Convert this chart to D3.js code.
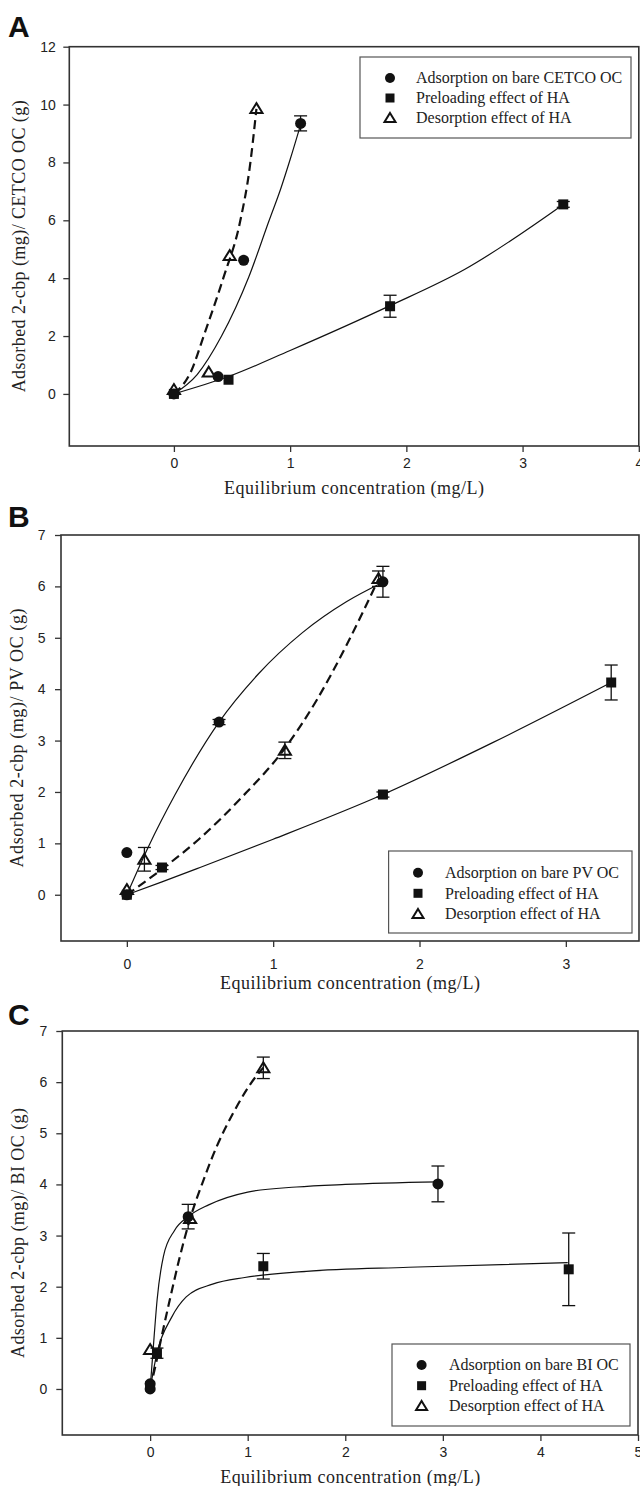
<!DOCTYPE html>
<html>
<head>
<meta charset="utf-8">
<script src="https://cdn.jsdelivr.net/npm/d3@7"></script>
<style>
body { margin: 0; background: #fff; }
svg { display: block; }
</style>
</head>
<body>
<div id="chart"></div>
<script>
// legend labels shared by all panels
var legendPreload = 'Preloading effect of HA';
var legendDesorb = 'Desorption effect of HA';

// panel A - CETCO OC, points are [x, y, error]
var aBare = [[0, 0, 0], [0.38, 0.6, 0], [0.6, 4.62, 0], [1.09, 9.35, 0.26]];
var aPreload = [[0, 0, 0], [0.47, 0.49, 0], [1.86, 3.03, 0.38], [3.35, 6.55, 0.1]];
var aDesorb = [[0, 0.15, 0], [0.3, 0.75, 0], [0.48, 4.78, 0], [0.71, 9.86, 0]];
// fitted curves
var aBareFit = [[0, 0], [0.2, 0.67], [0.41, 2.0], [0.645, 4.05], [0.82, 6.0], [0.92, 7.1], [1.0, 8.1], [1.09, 9.3]];
var aPreloadFit = [[0, 0], [0.47, 0.6], [1.0, 1.5], [1.86, 3.05], [2.5, 4.3], [3.35, 6.55]];
var aDesorbFit = [[0, 0], [0.15, 0.8], [0.256, 2.0], [0.425, 4.0], [0.572, 6.0], [0.65, 7.75], [0.71, 9.85]];
var aXTicks = [0, 1, 2, 3, 4];
var aYTicks = [0, 2, 4, 6, 8, 10, 12];
var aYTitle = 'Adsorbed 2-cbp (mg)/ CETCO OC (g)';
var aLegend = ['Adsorption on bare CETCO OC', legendPreload, legendDesorb];

// panel B - PV OC
var bBare = [[0, 0, 0], [0, 0.82, 0], [0.63, 3.36, 0.05], [1.75, 6.09, 0.3]];
var bPreload = [[0, 0, 0], [0.24, 0.53, 0.04], [1.75, 1.95, 0.05], [3.31, 4.13, 0.34]];
var bDesorb = [[0, 0.1, 0], [0.12, 0.69, 0.23], [1.08, 2.81, 0.16], [1.72, 6.15, 0.15]];
var bBareFit = [[0, 0], [0.15, 0.95], [0.33, 1.95], [0.63, 3.36], [0.9, 4.3], [1.2, 5.1], [1.5, 5.7], [1.75, 6.08]];
var bPreloadFit = [[0, 0], [0.24, 0.25], [0.5, 0.53], [1.0, 1.08], [1.75, 1.95], [2.5, 2.96], [3.31, 4.13]];
var bDesorbFit = [[0, 0], [0.25, 0.52], [0.5, 1.1], [0.78, 1.88], [1.08, 2.85], [1.3, 3.8], [1.5, 4.85], [1.72, 6.14]];
var bXTicks = [0, 1, 2, 3];
var bYTicks = [0, 1, 2, 3, 4, 5, 6, 7];
var bYTitle = 'Adsorbed 2-cbp (mg)/ PV OC (g)';
var bLegend = ['Adsorption on bare PV OC', legendPreload, legendDesorb];

// panel C - BI OC
var cBare = [[0, 0, 0], [0, 0.1, 0], [0.39, 3.37, 0.24], [2.95, 4.01, 0.35]];
var cPreload = [[0, 0.05, 0], [0.07, 0.7, 0.1], [1.16, 2.4, 0.25], [4.29, 2.34, 0.71]];
var cDesorb = [[0, 0.77, 0], [0.41, 3.33, 0], [1.16, 6.28, 0.21]];
var cBareFit = [[0, 0], [0.04, 1.0], [0.072, 1.75], [0.137, 2.6], [0.25, 3.1], [0.39, 3.37], [0.6, 3.6], [1.0, 3.85], [1.5, 3.95], [2.0, 4.0], [2.95, 4.05]];
var cPreloadFit = [[0, 0], [0.07, 0.7], [0.22, 1.4], [0.37, 1.8], [0.64, 2.05], [0.97, 2.18], [1.6, 2.3], [2.65, 2.38], [4.28, 2.47]];
var cDesorbFit = [[0, 0], [0.06, 0.5], [0.115, 1.0], [0.2, 1.73], [0.3, 2.55], [0.41, 3.33], [0.55, 4.1], [0.68, 4.73], [0.85, 5.39], [1.08, 6.1], [1.16, 6.28]];
var cXTicks = [0, 1, 2, 3, 4, 5];
var cYTicks = [0, 1, 2, 3, 4, 5, 6, 7];
var cYTitle = 'Adsorbed 2-cbp (mg)/ BI OC (g)';
var cLegend = ['Adsorption on bare BI OC', legendPreload, legendDesorb];

var xTitle = 'Equilibrium concentration (mg/L)';

// layout of each panel (pixels)
var panels = [
    {
        letter: 'A', letterY: 37,
        left: 69.3, right: 638.8, top: 46.7, bottom: 446,
        xDomain: [-0.9, 4], yDomain: [-1.8, 12],
        xTicks: aXTicks, yTicks: aYTicks, xPad: 6.5, yPad: 7.5,
        yTitle: aYTitle, yTitleX: 19, yTitleLen: 292,
        bare: aBare, preload: aPreload, desorb: aDesorb,
        bareFit: aBareFit, preloadFit: aPreloadFit, desorbFit: aDesorbFit,
        legend: aLegend, legendBox: [360, 57, 271, 81], legendSymX: 390, legendTextX: 416, legendRows: [78, 98, 118]
    },
    {
        letter: 'B', letterY: 527,
        left: 61, right: 639, top: 535, bottom: 941,
        xDomain: [-0.45, 3.5], yDomain: [-0.9, 7],
        xTicks: bXTicks, yTicks: bYTicks, xPad: 12, yPad: 9.5,
        yTitle: bYTitle, yTitleX: 17, yTitleLen: 259,
        bare: bBare, preload: bPreload, desorb: bDesorb,
        bareFit: bBareFit, preloadFit: bPreloadFit, desorbFit: bDesorbFit,
        legend: bLegend, legendBox: [388.6, 851, 243.4, 82], legendSymX: 418, legendTextX: 445, legendRows: [872.7, 893.3, 914]
    },
    {
        letter: 'C', letterY: 1025,
        left: 62.3, right: 638, top: 1031, bottom: 1435,
        xDomain: [-0.9, 5], yDomain: [-0.9, 7],
        xTicks: cXTicks, yTicks: cYTicks, xPad: 6.5, yPad: 9,
        yTitle: cYTitle, yTitleX: 18, yTitleLen: 250,
        bare: cBare, preload: cPreload, desorb: cDesorb,
        bareFit: cBareFit, preloadFit: cPreloadFit, desorbFit: cDesorbFit,
        legend: cLegend, legendBox: [392, 1344, 238, 82], legendSymX: 421.6, legendTextX: 449, legendRows: [1365, 1385.7, 1406]
    }
];

var serif = '"Liberation Serif", "Times New Roman", serif';
var sans = '"Liberation Sans", Arial, sans-serif';
var axisColor = '#333';

var svg = d3.select('#chart').append('svg')
    .attr('width', 640)
    .attr('height', 1486);

function trianglePath(s){
    return 'M0,' + (-s) + 'L' + (s * 1.1) + ',' + (s * 0.8) + 'L' + (-s * 1.1) + ',' + (s * 0.8) + 'Z';
}

function drawSymbols(g, data, kind, x, y){
    var sel = g.append('g').selectAll('.pt').data(data).enter();
    if(kind == 'circle'){
        sel.append('circle')
            .attr('cx', function(d){ return x(d[0]); })
            .attr('cy', function(d){ return y(d[1]); })
            .attr('r', 5.5)
            .attr('fill', '#111');
    } else if(kind == 'square'){
        sel.append('rect')
            .attr('x', function(d){ return x(d[0]) - 5; })
            .attr('y', function(d){ return y(d[1]) - 5; })
            .attr('width', 10)
            .attr('height', 10)
            .attr('fill', '#111');
    } else{
        sel.append('path')
            .attr('d', trianglePath(5.5))
            .attr('transform', function(d){ return 'translate(' + x(d[0]) + ',' + y(d[1]) + ')'; })
            .attr('fill', 'none')
            .attr('stroke', '#111')
            .attr('stroke-width', 2);
    }
}

function drawErrors(g, data, x, y){
    var bars = data.filter(function(d){ return d[2] > 0; });
    var eg = g.append('g').attr('stroke', '#111').attr('stroke-width', 1.3);
    bars.forEach(function(d){
        var cx = x(d[0]), y0 = y(d[1] - d[2]), y1 = y(d[1] + d[2]);
        eg.append('line').attr('x1', cx).attr('x2', cx).attr('y1', y0).attr('y2', y1);
        eg.append('line').attr('x1', cx - 6.5).attr('x2', cx + 6.5).attr('y1', y0).attr('y2', y0);
        eg.append('line').attr('x1', cx - 6.5).attr('x2', cx + 6.5).attr('y1', y1).attr('y2', y1);
    });
}

function drawPanel(p){
    var g = svg.append('g');

    var x = d3.scaleLinear().domain(p.xDomain).range([p.left, p.right]);
    var y = d3.scaleLinear().domain(p.yDomain).range([p.bottom, p.top]);

    // panel letter
    g.append('text')
        .attr('x', 8)
        .attr('y', p.letterY)
        .attr('font-family', sans)
        .attr('font-weight', 'bold')
        .attr('font-size', 30)
        .attr('fill', '#111')
        .text(p.letter);

    // axes
    var xAxis = g.append('g')
        .attr('transform', 'translate(0,' + p.bottom + ')')
        .call(d3.axisBottom(x).tickValues(p.xTicks).tickSize(6).tickPadding(p.xPad).tickFormat(d3.format('d')));
    var yAxis = g.append('g')
        .attr('transform', 'translate(' + p.left + ',0)')
        .call(d3.axisLeft(y).tickValues(p.yTicks).tickSize(6).tickPadding(p.yPad).tickFormat(d3.format('d')));

    [xAxis, yAxis].forEach(function(a){
        a.select('.domain').remove();
        a.selectAll('line').attr('stroke', axisColor).attr('stroke-width', 1.3);
        a.selectAll('text')
            .attr('font-family', sans)
            .attr('font-size', 14)
            .attr('fill', '#222');
    });

    // frame
    g.append('rect')
        .attr('x', p.left)
        .attr('y', p.top)
        .attr('width', p.right - p.left)
        .attr('height', p.bottom - p.top)
        .attr('fill', 'none')
        .attr('stroke', axisColor)
        .attr('stroke-width', 1.6);

    // axis titles
    g.append('text')
        .attr('x', (p.left + p.right) / 2)
        .attr('y', p.bottom + 48)
        .attr('text-anchor', 'middle')
        .attr('font-family', serif)
        .attr('font-size', 18)
        .attr('fill', '#222')
        .attr('textLength', 260)
        .attr('lengthAdjust', 'spacing')
        .text(xTitle);

    g.append('text')
        .attr('transform', 'translate(' + p.yTitleX + ',' + ((p.top + p.bottom) / 2) + ') rotate(-90)')
        .attr('text-anchor', 'middle')
        .attr('dy', '0.35em')
        .attr('font-family', serif)
        .attr('font-size', 18)
        .attr('fill', '#222')
        .attr('textLength', p.yTitleLen)
        .attr('lengthAdjust', 'spacing')
        .text(p.yTitle);

    // fitted curves
    var line = d3.line()
        .x(function(d){ return x(d[0]); })
        .y(function(d){ return y(d[1]); })
        .curve(d3.curveMonotoneX);

    g.append('path').datum(p.bareFit)
        .attr('d', line).attr('fill', 'none').attr('stroke', '#111').attr('stroke-width', 1.2);
    g.append('path').datum(p.preloadFit)
        .attr('d', line).attr('fill', 'none').attr('stroke', '#111').attr('stroke-width', 1.2);
    g.append('path').datum(p.desorbFit)
        .attr('d', line).attr('fill', 'none').attr('stroke', '#111').attr('stroke-width', 2.2)
        .attr('stroke-dasharray', '9,5');

    // error bars then markers
    drawErrors(g, p.bare, x, y);
    drawErrors(g, p.preload, x, y);
    drawErrors(g, p.desorb, x, y);
    drawSymbols(g, p.bare, 'circle', x, y);
    drawSymbols(g, p.preload, 'square', x, y);
    drawSymbols(g, p.desorb, 'triangle', x, y);

    // legend
    var lb = p.legendBox;
    var lg = g.append('g');
    lg.append('rect')
        .attr('x', lb[0]).attr('y', lb[1])
        .attr('width', lb[2]).attr('height', lb[3])
        .attr('fill', '#fff')
        .attr('stroke', '#555')
        .attr('stroke-width', 1.2);

    var kinds = ['circle', 'square', 'triangle'];
    p.legend.forEach(function(label, i){
        var cy = p.legendRows[i];
        if(kinds[i] == 'circle'){
            lg.append('circle').attr('cx', p.legendSymX).attr('cy', cy).attr('r', 5).attr('fill', '#111');
        } else if(kinds[i] == 'square'){
            lg.append('rect').attr('x', p.legendSymX - 4.5).attr('y', cy - 4.5)
                .attr('width', 9).attr('height', 9).attr('fill', '#111');
        } else{
            lg.append('path').attr('d', trianglePath(5))
                .attr('transform', 'translate(' + p.legendSymX + ',' + cy + ')')
                .attr('fill', '#fff').attr('stroke', '#111').attr('stroke-width', 2);
        }
        lg.append('text')
            .attr('x', p.legendTextX)
            .attr('y', cy)
            .attr('dy', '0.33em')
            .attr('font-family', serif)
            .attr('font-size', 16)
            .attr('fill', '#222')
            .text(label);
    });
}

panels.forEach(drawPanel);
</script>
</body>
</html>
